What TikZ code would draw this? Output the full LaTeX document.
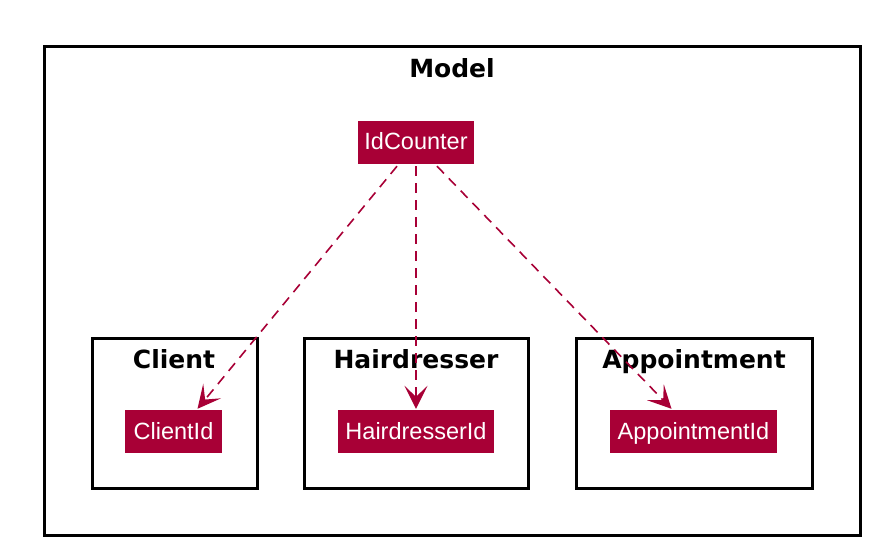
\documentclass[tikz,border=0pt]{standalone}
\usepackage{fontspec}
\setmainfont{Liberation Sans}
\newfontfamily\titlefont{DejaVu Sans}
\usetikzlibrary{arrows.meta}
\definecolor{umlred}{HTML}{A80036}

\begin{document}
\begin{tikzpicture}[x=1pt,y=-1pt,
    idbox/.style={fill=umlred,text=white,font=\fontsize{23.5}{26}\selectfont,
                  minimum height=43pt,inner sep=0pt,text height=17pt,text depth=2pt},
    pkgframe/.style={draw=black,line width=3pt},
    pkgtitle/.style={anchor=base,font=\titlefont\bfseries\fontsize{25}{28}\selectfont},
    dep/.style={draw=umlred,line width=1.6pt,dash pattern=on 10pt off 7pt,
                -{Stealth[length=23pt,width=23pt,inset=11pt]}}]
    \useasboundingbox (0,0) rectangle (880,556);

    % Rahmen Model
    \draw[pkgframe] (44,47) rectangle (860,535);
    \node[pkgtitle] (model) at (452,78) {Model};

    % Pakete
    \draw[pkgframe] (92,338) rectangle (257,488);
    \node[pkgtitle] (client) at (174,368) {Client};
    \draw[pkgframe] (304,338) rectangle (528,488);
    \node[pkgtitle] (hairdresser) at (416,368) {Hairdresser};
    \draw[pkgframe] (576,338) rectangle (812,488);
    \node[pkgtitle] (appointment) at (694,368) {Appointment};

    % Klassen
    \node[idbox,minimum width=116pt] (counter) at (416,142.5) {IdCounter};
    \node[idbox,minimum width=97pt] (clientid) at (173.5,431.5) {ClientId};
    \node[idbox,minimum width=156pt] (hairdresserid) at (416,431.5) {HairdresserId};
    \node[idbox,minimum width=167pt] (appointmentid) at (693.5,431.5) {AppointmentId};

    % Abhaengigkeiten
    \draw[dep] ([xshift=-19pt,yshift=-2pt]counter.south) -- ([xshift=24pt,yshift=1pt]clientid.north);
    \draw[dep] ([yshift=-2pt]counter.south) -- ([yshift=1pt]hairdresserid.north);
    \draw[dep] ([xshift=21pt,yshift=-2pt]counter.south) -- ([xshift=-22pt,yshift=1pt]appointmentid.north);
\end{tikzpicture}
\end{document}
